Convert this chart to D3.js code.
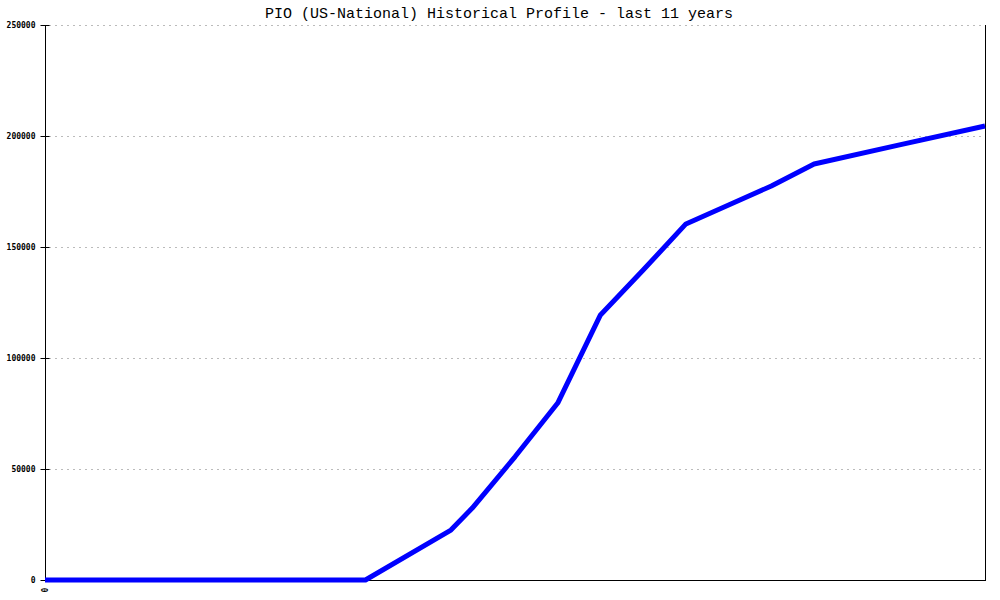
<!DOCTYPE html>
<html>
<head>
<meta charset="utf-8">
<script src="https://cdn.jsdelivr.net/npm/d3@7"></script>
<style>
  body { margin: 0; background: #fff; }
  svg { display: block; }
</style>
</head>
<body>
<svg id="chart" width="1000" height="600"></svg>
<script>
// Data: quarter index over the last 11 years (0..44) and profile count
const quarters = [0, 4, 8, 12, 15, 19, 20, 22, 24, 26, 27, 28, 30, 32, 34, 36, 40, 44];
const values   = [0, 0, 0, 0, 0, 22500, 32400, 55500, 79700, 119400, 129500, 139600, 160400, 168900, 177500, 187400, 196000, 204500];
const yTicks = [0, 50000, 100000, 150000, 200000, 250000];
const xTickLabels = ["0"];
const title = "PIO (US-National) Historical Profile - last 11 years";

const svg = d3.select("#chart");
const mLeft = 45, mRight = 985, mTop = 25, mBottom = 580;

const x = d3.scaleLinear().domain([0, 44]).range([mLeft, mRight]);
const y = d3.scaleLinear().domain([0, 250000]).range([mBottom, mTop]);

// Title
svg.append("text")
  .attr("x", 499).attr("y", 18)
  .attr("text-anchor", "middle")
  .attr("font-family", "'Liberation Mono', 'DejaVu Sans Mono', monospace")
  .attr("font-size", 15)
  .attr("fill", "#000")
  .text(title);

// Grid lines
svg.append("g").selectAll("line")
  .data(yTicks.filter(d => d > 0))
  .join("line")
  .attr("x1", mLeft + 4).attr("x2", mRight)
  .attr("y1", d => Math.round(y(d)) + 0.5).attr("y2", d => Math.round(y(d)) + 0.5)
  .attr("stroke", "#bbbbbb")
  .attr("stroke-dasharray", "2,4");

// Y axis
const yAxis = d3.axisLeft(y).tickValues(yTicks).tickFormat(d3.format("d")).tickSize(5).tickPadding(5);
const gy = svg.append("g").attr("transform", `translate(${mLeft + 0.5},0)`).call(yAxis);
gy.select(".domain").remove();
gy.selectAll(".tick line").attr("x2", -5).attr("x1", 4).attr("stroke", "#000");
gy.selectAll(".tick").attr("transform", d => `translate(0,${Math.round(y(d)) + 0.5})`);
gy.selectAll(".tick text")
  .attr("font-family", "'DejaVu Sans Mono', monospace")
  .attr("font-size", 8)
  .attr("font-weight", "bold")
  .attr("fill", "#000");

// Axis frame lines
svg.append("line").attr("x1", mLeft + 0.5).attr("x2", mLeft + 0.5).attr("y1", mTop).attr("y2", mBottom + 1).attr("stroke", "#000");
svg.append("line").attr("x1", mLeft).attr("x2", mRight + 1).attr("y1", mBottom + 0.5).attr("y2", mBottom + 0.5).attr("stroke", "#000");
svg.append("line").attr("x1", mRight + 0.5).attr("x2", mRight + 0.5).attr("y1", mTop).attr("y2", mBottom + 1).attr("stroke", "#000");

// X tick label (rotated)
svg.append("g").selectAll("text")
  .data(xTickLabels)
  .join("text")
  .attr("transform", (d, i) => `translate(${x(i) + 3},${mBottom + 10}) rotate(-90)`)
  .attr("text-anchor", "middle")
  .attr("font-family", "'DejaVu Sans Mono', monospace")
  .attr("font-size", 8)
  .attr("font-weight", "bold")
  .text(d => d);

// Line
const pts = quarters.map((q, i) => [q, values[i]]);
svg.append("path")
  .datum(pts)
  .attr("fill", "none")
  .attr("stroke", "#0000ff")
  .attr("stroke-width", 5)
  .attr("stroke-linejoin", "round")
  .attr("d", d3.line().x(d => x(d[0])).y(d => y(d[1])));
</script>
</body>
</html>
